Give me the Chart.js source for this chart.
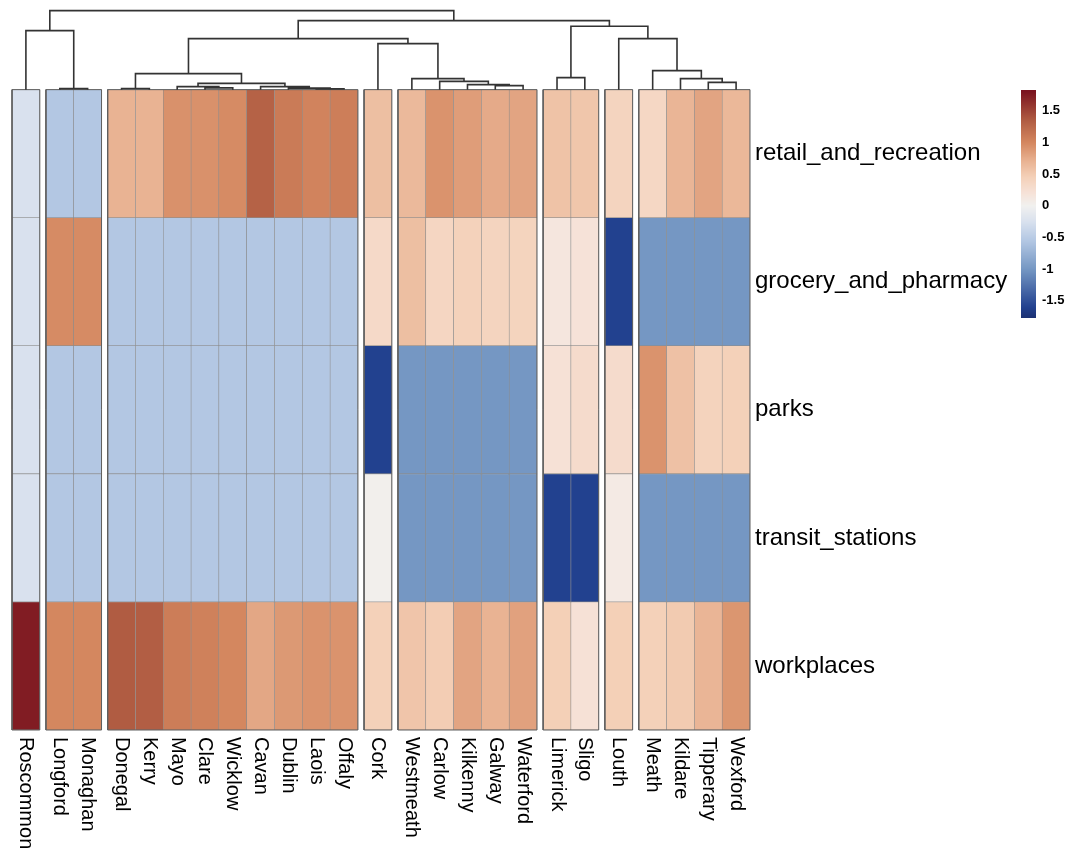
<!DOCTYPE html>
<html>
<head>
<meta charset="utf-8">
<title>County mobility heatmap</title>
<script src="https://cdn.jsdelivr.net/npm/chart.js@4.4.1/dist/chart.umd.min.js"></script>
<style>
  html, body { margin: 0; padding: 0; background: #fff; }
  #wrap { width: 1069px; height: 851px; }
</style>
</head>
<body>
<div id="wrap"><canvas id="heatmap" width="1069" height="851"></canvas></div>
<script>
// column order as it comes out of the clustering
const counties = ['Roscommon', 'Longford', 'Monaghan', 'Donegal', 'Kerry', 'Mayo', 'Clare', 'Wicklow',
    'Cavan', 'Dublin', 'Laois', 'Offaly', 'Cork', 'Westmeath', 'Carlow', 'Kilkenny', 'Galway', 'Waterford',
    'Limerick', 'Sligo', 'Louth', 'Meath', 'Kildare', 'Tipperary', 'Wexford'];
const clusters = [1, 2, 2, 3, 3, 3, 3, 3, 3, 3, 3, 3, 4, 5, 5, 5, 5, 5, 6, 6, 7, 8, 8, 8, 8];
const categories = ['retail_and_recreation', 'grocery_and_pharmacy', 'parks', 'transit_stations', 'workplaces'];

// scaled values, one per county
const retail = [-0.25, -0.55, -0.55, 0.7, 0.7, 0.93, 0.93, 0.97, 1.3, 1.1, 1.03, 1.07, 0.6,
    0.65, 0.92, 0.85, 0.76, 0.8, 0.57, 0.54, 0.4, 0.36, 0.68, 0.8, 0.66];
const grocery = [-0.25, 0.97, 0.97, -0.55, -0.55, -0.55, -0.55, -0.55, -0.55, -0.55, -0.55, -0.55, 0.33,
    0.6, 0.38, 0.43, 0.4, 0.41, 0.15, 0.2, -1.6, -1.0, -1.0, -1.0, -1.0];
const parks = [-0.25, -0.55, -0.55, -0.55, -0.55, -0.55, -0.55, -0.55, -0.55, -0.55, -0.55, -0.55, -1.6,
    -1.0, -1.0, -1.0, -1.0, -1.0, 0.22, 0.3, 0.3, 0.92, 0.58, 0.42, 0.45];
const transit = [-0.25, -0.55, -0.55, -0.55, -0.55, -0.55, -0.55, -0.55, -0.55, -0.55, -0.55, -0.55, 0.03,
    -1.0, -1.0, -1.0, -1.0, -1.0, -1.6, -1.6, 0.1, -1.0, -1.0, -1.0, -1.0];
const workplaces = [1.75, 1.0, 1.0, 1.35, 1.33, 1.08, 1.05, 1.0, 0.78, 0.88, 0.92, 0.92, 0.45,
    0.55, 0.48, 0.8, 0.7, 0.82, 0.46, 0.22, 0.46, 0.45, 0.5, 0.68, 0.9];

// hclust style merges: negative = leaf (1-based), positive = earlier merge (1-based), then height
const merges = [
    [-2, -3, 1.0], [-4, -5, 1.2], [-11, -12, 0.8], [-7, -8, 1.8], [-10, 3, 1.5], [-6, 4, 3.0],
    [-9, 5, 3.0], [6, 7, 6.3], [2, 8, 16], [-17, -18, 4], [-16, 10, 5], [-15, 11, 8.3],
    [-14, 12, 11], [-13, 13, 46], [9, 14, 51], [-19, -20, 12], [-24, -25, 7.3], [-23, 17, 11],
    [-22, 18, 19], [-21, 19, 51], [16, 20, 63.3], [15, 21, 69], [-1, 1, 59], [23, 22, 79]
];

const legendTicks = [1.5, 1, 0.5, 0, -0.5, -1, -1.5];
const rampValues = [-1.8, -1.6, -1.0, -0.55, -0.25, 0, 0.2, 0.45, 0.7, 1.0, 1.35, 1.8];
const rampColors = ['#1b2e6e', '#22418f', '#7597c3', '#b3c7e3', '#d9e1ee', '#f1f1ef',
    '#f6e2d8', '#f4d1b9', '#e9b393', '#d4875f', '#b05c42', '#7b141f'];

function hexToRgb(h) {
    return [1, 3, 5].map(i => parseInt(h.substr(i, 2), 16));
}
const rampRgb = rampColors.map(hexToRgb);

function colorFor(v) {
    if (v <= rampValues[0]) return rampColors[0];
    for (let i = 1; i < rampValues.length; i++) {
        if (v <= rampValues[i]) {
            const t = (v - rampValues[i - 1]) / (rampValues[i] - rampValues[i - 1]);
            const a = rampRgb[i - 1], b = rampRgb[i];
            const c = a.map((ch, k) => Math.round(ch + (b[k] - ch) * t));
            return 'rgb(' + c.join(',') + ')';
        }
    }
    return rampColors[rampColors.length - 1];
}

// x positions: one unit per column, small gap between clusters
const GAP = 0.22;
const colX = [];
let cursor = 0;
counties.forEach((c, i) => {
    if (i > 0 && clusters[i] !== clusters[i - 1]) cursor += GAP;
    colX.push(cursor + 0.5);
    cursor += 1;
});
const xMax = cursor;

// heatmap cells as floating bars, top row first
const rowsData = [retail, grocery, parks, transit, workplaces];
const nRows = categories.length;
const cells = [];
rowsData.forEach((vals, r) => {
    const y0 = nRows - 1 - r;
    vals.forEach((v, i) => cells.push({ x: colX[i], y: [y0, y0 + 1], v: v }));
});

// dendrogram above the heatmap
const DENDRO_UNIT = 1 / 128;   // merge height -> row units
const toY = h => nRows + h * DENDRO_UNIT;
const nodeX = [], nodeH = [];
function childPos(id) {
    if (id < 0) return [colX[-id - 1], 0];
    return [nodeX[id - 1], nodeH[id - 1]];
}
const dendroPts = [];
merges.forEach(([a, b, h]) => {
    const [xa, ha] = childPos(a);
    const [xb, hb] = childPos(b);
    nodeX.push((xa + xb) / 2);
    nodeH.push(h);
    dendroPts.push({ x: xa, y: toY(ha) }, { x: xa, y: toY(h) }, { x: xb, y: toY(h) },
        { x: xb, y: toY(hb) }, { x: xb, y: null });
});

// border round each cluster slice
const slices = [];
let start = 0;
for (let i = 1; i <= counties.length; i++) {
    if (i === counties.length || clusters[i] !== clusters[start]) {
        const x0 = colX[start] - 0.5, x1 = colX[i - 1] + 0.5;
        slices.push({ x: x0, y: 0 }, { x: x1, y: 0 }, { x: x1, y: nRows }, { x: x0, y: nRows },
            { x: x0, y: 0 }, { x: x0, y: null });
        start = i;
    }
}

const labelPlugin = {
    id: 'heatLabels',
    afterDraw(chart) {
        const { ctx, chartArea, scales: { x, y } } = chart;
        ctx.save();
        ctx.fillStyle = '#000';
        ctx.textAlign = 'left';
        ctx.textBaseline = 'middle';

        // row names
        ctx.font = '24px "Liberation Sans", Arial, sans-serif';
        categories.forEach((name, r) => {
            ctx.fillText(name, chartArea.right + 5, y.getPixelForValue(nRows - 1 - r + 0.5));
        });

        // column names, reading downwards
        ctx.font = '20px "Liberation Sans", Arial, sans-serif';
        counties.forEach((name, i) => {
            ctx.save();
            ctx.translate(x.getPixelForValue(colX[i]), chartArea.bottom + 7);
            ctx.rotate(Math.PI / 2);
            ctx.fillText(name, 0, 0);
            ctx.restore();
        });

        // colour key
        const keyLeft = 1021, keyWidth = 15, keyTop = 90, keyBottom = 318;
        const keyMin = -1.77, keyMax = 1.83;
        const keyY = v => keyTop + (keyMax - v) / (keyMax - keyMin) * (keyBottom - keyTop);
        for (let py = keyTop; py < keyBottom; py++) {
            const v = keyMax - (py + 0.5 - keyTop) / (keyBottom - keyTop) * (keyMax - keyMin);
            ctx.fillStyle = colorFor(v);
            ctx.fillRect(keyLeft, py, keyWidth, 1);
        }
        ctx.fillStyle = '#000';
        ctx.font = 'bold 13px "Liberation Sans", Arial, sans-serif';
        legendTicks.forEach(t => {
            ctx.fillText(String(t), keyLeft + keyWidth + 6, keyY(t));
        });
        ctx.restore();
    }
};

const ctx = document.getElementById('heatmap').getContext('2d');
new Chart(ctx, {
    type: 'bar',
    data: {
        datasets: [{
            type: 'line',
            label: 'dendrogram',
            data: dendroPts,
            borderColor: '#333',
            borderWidth: 1.6,
            pointRadius: 0,
            spanGaps: false,
            tension: 0,
            clip: false,
            order: 0
        }, {
            type: 'line',
            label: 'slices',
            data: slices,
            borderColor: '#5f5f5f',
            borderWidth: 1,
            pointRadius: 0,
            spanGaps: false,
            tension: 0,
            clip: false,
            order: 1
        }, {
            label: 'scaled mobility',
            data: cells,
            backgroundColor: c => colorFor(c.raw ? c.raw.v : 0),
            borderColor: '#8c8c8c',
            borderWidth: 0.6,
            borderSkipped: false,
            barPercentage: 1,
            categoryPercentage: 1,
            grouped: false,
            order: 2
        }]
    },
    options: {
        responsive: false,
        animation: false,
        events: [],
        layout: { padding: { left: 12, right: 319, top: 0, bottom: 121 } },
        plugins: {
            legend: { display: false },
            tooltip: { enabled: false }
        },
        scales: {
            x: {
                type: 'linear',
                min: 0,
                max: xMax,
                offset: false,
                display: false,
                afterBuildTicks: s => { s.ticks = colX.map(v => ({ value: v })); }
            },
            y: {
                type: 'linear',
                min: 0,
                max: 5.7,
                display: false
            }
        }
    },
    plugins: [labelPlugin]
});
</script>
</body>
</html>
